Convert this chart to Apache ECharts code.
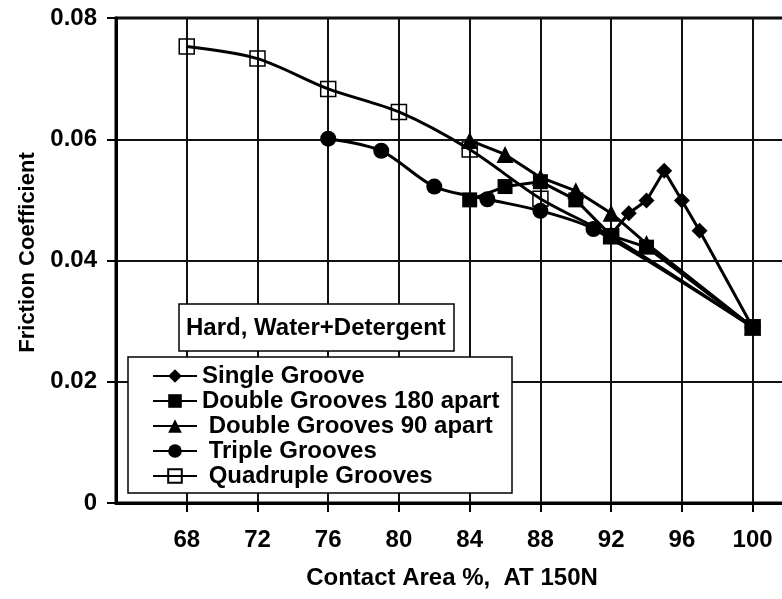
<!DOCTYPE html>
<html>
<head>
<meta charset="utf-8">
<script src="https://cdn.jsdelivr.net/npm/echarts@6/dist/echarts.min.js"></script>
<style>
  html, body { margin: 0; padding: 0; background: #fff; overflow: hidden; }
  /* plot runs past the right edge of the window, like the cropped original */
  #chart { width: 800px; height: 599px; }
</style>
</head>
<body>
<div id="chart"></div>
<script>
// values
const singleX = [92, 93, 94, 95, 96, 97, 100]
const singleY = [0.0443, 0.0478, 0.0499, 0.0548, 0.0499, 0.0449, 0.029]
const double180X = [84, 86, 88, 90, 92, 94, 100]
const double180Y = [0.0500, 0.0522, 0.0530, 0.0500, 0.0441, 0.0422, 0.029]
const double90X = [84, 86, 88, 90, 92, 94, 100]
const double90Y = [0.0598, 0.0575, 0.0537, 0.0515, 0.0478, 0.0428, 0.029]
const tripleX = [76, 79, 82, 85, 88, 91, 100]
const tripleY = [0.0601, 0.0581, 0.0522, 0.0501, 0.0482, 0.0452, 0.029]
const quadX = [68, 72, 76, 80, 84, 88, 92, 100]
const quadY = [0.0753, 0.0733, 0.0683, 0.0645, 0.0583, 0.0502, 0.0440, 0.029]

const xTicks = [64, 102, 4]   // min, max, step
const yTicks = [0, 0.08, 0.02]

const FONT = 'Liberation Sans, Arial, sans-serif'
const zip = (xs, ys) => xs.map((x, i) => [x, ys[i]])

const chart = echarts.init(document.getElementById('chart'), null, { renderer: 'canvas' })

const black = '#000'
function line(name, xs, ys, symbol, size, extra) {
  return Object.assign({
    name,
    type: 'line',
    data: zip(xs, ys),
    symbol,
    symbolSize: size,
    showAllSymbol: true,
    lineStyle: { color: black, width: 3 },
    itemStyle: { color: black },
    emphasis: { disabled: true },
  }, extra || {})
}

const bold = (size) => ({ fontSize: size, fontWeight: 'bold', color: black, fontFamily: FONT })

chart.setOption({
  animation: false,
  textStyle: { fontFamily: FONT, fontWeight: 'bold', color: black },
  grid: { left: 116, top: 18, right: 12, bottom: 96, show: true, borderColor: black, borderWidth: 3 },
  xAxis: {
    type: 'value',
    min: xTicks[0], max: xTicks[1], interval: xTicks[2],
    name: 'Contact Area %,  AT 150N',
    nameLocation: 'middle',
    nameGap: 63,
    nameTextStyle: bold(24),
    axisLine: { lineStyle: { color: black, width: 3 } },
    axisTick: { show: true, inside: false, length: 9, lineStyle: { color: black, width: 2 } },
    axisLabel: Object.assign(bold(24), {
      margin: 25,
      showMinLabel: false,
      showMaxLabel: false,
      formatter: v => (v === xTicks[0] || v === xTicks[1] ? '' : String(v)),
    }),
    splitLine: { show: true, lineStyle: { color: '#111', width: 2 } },
  },
  yAxis: {
    type: 'value',
    min: yTicks[0], max: yTicks[1], interval: yTicks[2],
    name: 'Friction Coefficient',
    nameLocation: 'middle',
    nameGap: 74,
    nameTextStyle: Object.assign(bold(22), { padding: [0, 0, 0, 16] }),
    axisLine: { show: true, lineStyle: { color: black, width: 3 } },
    axisTick: { show: true, inside: false, length: 9, lineStyle: { color: black, width: 2 } },
    axisLabel: Object.assign(bold(24), {
      margin: 19,
      formatter: v => (v === 0 ? '0' : v.toFixed(2)),
    }),
    splitLine: { show: true, lineStyle: { color: '#111', width: 2 } },
  },
  legend: {
    orient: 'vertical',
    left: 152, top: 364,
    itemWidth: 44, itemHeight: 17, itemGap: 1,
    padding: 0,
    textStyle: bold(24),
    selectedMode: false,
    z: 6,
  },
  graphic: [
    {
      type: 'rect', z: 5,
      shape: { x: 128, y: 357, width: 384, height: 136 },
      style: { fill: '#fff', stroke: black, lineWidth: 1.5 },
    },
    {
      type: 'rect', z: 5,
      shape: { x: 179, y: 304, width: 275, height: 47 },
      style: { fill: '#fff', stroke: black, lineWidth: 1.5 },
    },
    {
      type: 'text', z: 6,
      x: 186, y: 328,
      style: {
        text: 'Hard, Water+Detergent',
        font: 'bold 24px ' + FONT,
        fill: black,
        verticalAlign: 'middle',
      },
    },
  ],
  series: [
    line('Single Groove', singleX, singleY, 'diamond', 16),
    line('Double Grooves 180 apart', double180X, double180Y, 'rect', 15),
    line(' Double Grooves 90 apart', double90X, double90Y, 'triangle', 17),
    line(' Triple Grooves', tripleX, tripleY, 'circle', 16, { smooth: 0.3 }),
    line(' Quadruple Grooves', quadX, quadY, 'rect', 15, {
      smooth: 0.3,
      itemStyle: { color: 'rgba(0,0,0,0)', borderColor: black, borderWidth: 1.5 },
    }),
  ],
})
</script>
</body>
</html>
